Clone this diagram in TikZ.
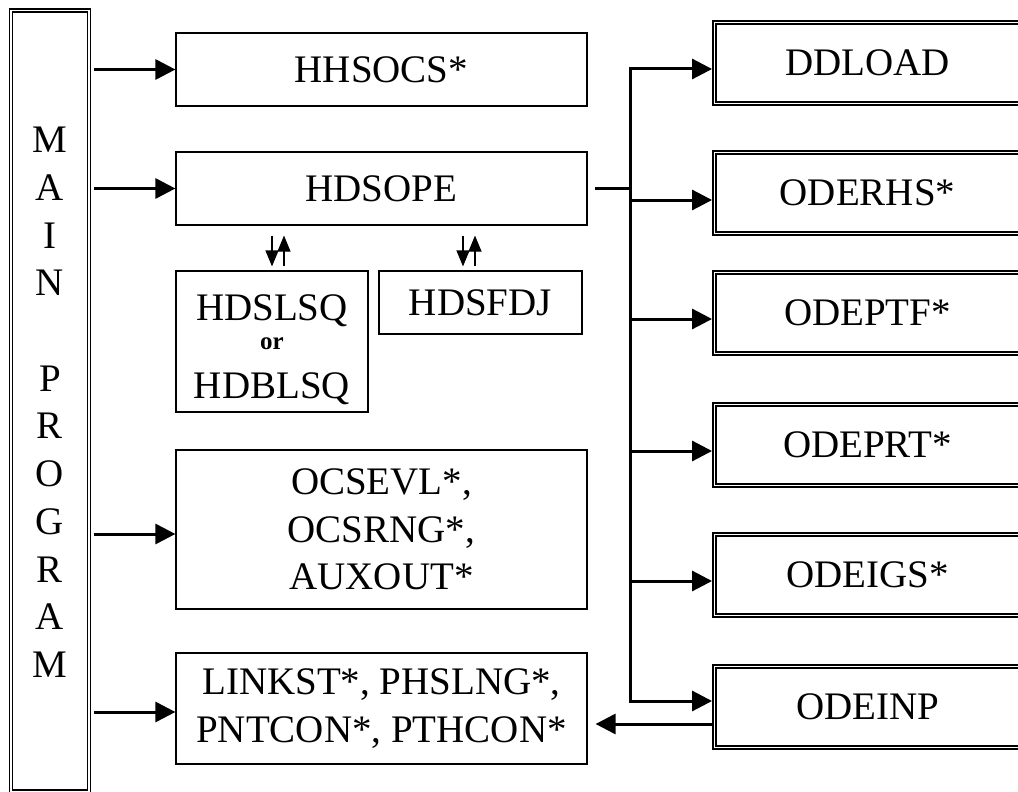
\documentclass[tikz,border=0pt]{standalone}
\usepackage{fontspec}
\setmainfont{Liberation Serif}
\usetikzlibrary{arrows.meta,calc}
\begin{document}
\begin{tikzpicture}[x=1pt,y=-1pt,
  txt/.style={inner sep=0pt, font=\fontsize{39}{47.5}\selectfont, align=center},
  box/.style={txt, draw, line width=1.2pt},
  dbox/.style={txt, draw, line width=1.9pt, minimum width=309pt, minimum height=84pt},
  inner/.style={line width=1.2pt},
  arr/.style={line width=3pt, line join=miter, -{Triangle[length=20pt,width=20pt]}},
  link/.style={line width=3pt},
  tiny/.style={line width=1.2pt, -{Triangle[length=16pt,width=13pt]}}
]
\useasboundingbox (0,0) rectangle (1018,792);
\clip (0,0) rectangle (1018,792);

% main program column
\node[draw, line width=1.9pt, inner sep=0pt, minimum width=81pt, minimum height=783.5pt] (main) at (50,400.75) {};
\draw[inner] ($(main.north west)+(4,4)$) rectangle ($(main.south east)+(-4,-3.5)$);
\node[txt, font=\fontsize{39}{47.7}\selectfont, anchor=north] (mainlbl) at (50,127)
  {M\\A\\I\\N\\~\\P\\R\\O\\G\\R\\A\\M};

% called routines (left column)
\node[box, minimum width=411pt, minimum height=73pt] (hhsocs) at (381.5,69.5) {HHSOCS*};
\node[box, minimum width=411pt, minimum height=73pt] (hdsope) at (381.5,188.5) {HDSOPE};
\node[box, minimum width=192pt, minimum height=141pt] (hdslsq) at (272,341.5) {};
\node[txt, anchor=base] (lsq1) at (272,320) {HDSLSQ};
\node[inner sep=0pt, font=\fontsize{25}{25}\selectfont\bfseries, anchor=base] (lsqor) at (272,349) {or};
\node[txt, anchor=base] (lsq2) at (272,398) {HDBLSQ};
\node[box, minimum width=203pt, minimum height=63pt] (hdsfdj) at (480.5,302.5) {HDSFDJ};
\node[box, minimum width=411pt, minimum height=159pt] (ocsevl) at (381.5,529.5) {OCSEVL*,\\OCSRNG*,\\AUXOUT*};
\node[box, minimum width=411pt, minimum height=111pt] (linkst) at (381.5,708.5) {LINKST*, PHSLNG*,\\PNTCON*, PTHCON*};

% ODE routines (right column)
\node[dbox] (ddload) at (867.5,63) {DDLOAD};
\node[dbox] (oderhs) at (867.5,193) {ODERHS*};
\node[dbox] (odeptf) at (867.5,313) {ODEPTF*};
\node[dbox] (odeprt) at (867.5,445) {ODEPRT*};
\node[dbox] (odeigs) at (867.5,575) {ODEIGS*};
\node[dbox] (odeinp) at (867.5,707) {ODEINP};
\foreach \n in {ddload,oderhs,odeptf,odeprt,odeigs,odeinp}
  \draw[inner] ($(\n.north west)+(4,4)$) rectangle ($(\n.south east)+(-4,-4)$);

% calls from the main program
\coordinate (mstart) at ($(main.east)+(2.5,0)$);
\coordinate (a3) at ($(ocsevl.west)+(0,4.5)$);
\coordinate (a4) at ($(linkst.west)+(0,3.5)$);
\draw[arr] (mstart |- hhsocs.west) -- (hhsocs.west);
\draw[arr] (mstart |- hdsope.west) -- (hdsope.west);
\draw[arr] (mstart |- a3) -- (a3);
\draw[arr] (mstart |- a4) -- (a4);

% HDSOPE <-> solver pairs
\draw[tiny] ($(hdsope.south -| hdslsq.north)+(0,10)$) -- ($(hdslsq.north)+(0,-4)$);
\draw[tiny] ($(hdslsq.north)+(12,-4)$) -- ($(hdsope.south -| hdslsq.north)+(12,10)$);
\draw[tiny] ($(hdsope.south -| hdsfdj.north)+(-17.5,10)$) -- ($(hdsfdj.north)+(-17.5,-4)$);
\draw[tiny] ($(hdsfdj.north)+(-5.5,-4)$) -- ($(hdsope.south -| hdsfdj.north)+(-5.5,10)$);

% trunk from HDSOPE to the ODE routines
\coordinate (ttop) at (630,69);
\coordinate (tbot) at (630,701);
\draw[link] ($(hdsope.east)+(7,0)$) -- (hdsope.east -| ttop);
\draw[arr] (tbot) -- (ttop) -- ($(ddload.west)+(0,6)$);
\draw[arr] (ttop) -- (tbot) -- ($(odeinp.west)+(0,-6)$);
\coordinate (b2) at ($(oderhs.west)+(0,7)$);
\coordinate (b3) at ($(odeptf.west)+(0,6)$);
\coordinate (b4) at ($(odeprt.west)+(0,6)$);
\coordinate (b5) at ($(odeigs.west)+(0,6)$);
\foreach \b in {b2,b3,b4,b5}
  \draw[arr] (\b -| ttop) -- (\b);

% ODEINP back to the continuation routines
\coordinate (ret) at ($(odeinp.west)+(0,17)$);
\coordinate (retend) at ($(linkst.east)+(8,0)$);
\draw[arr] (ret) -- (ret -| retend);
\end{tikzpicture}
\end{document}
